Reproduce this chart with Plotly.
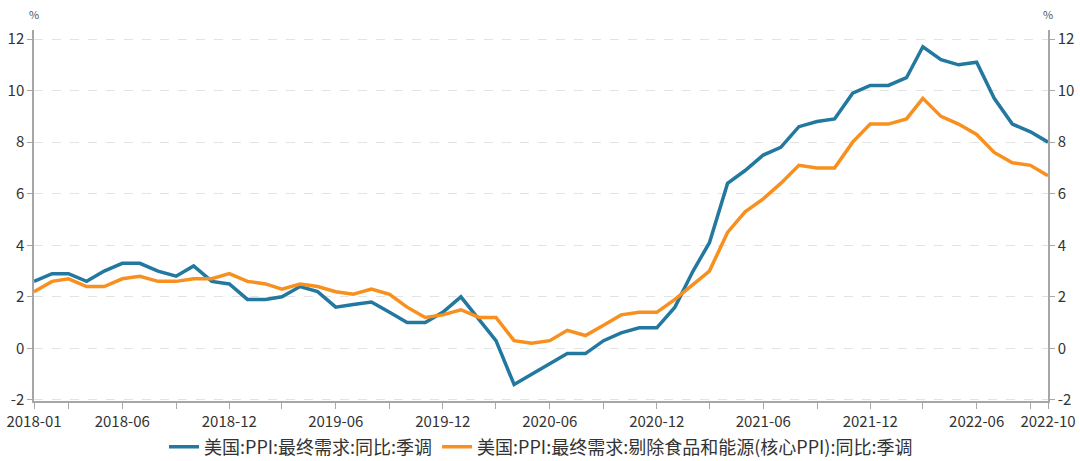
import plotly.graph_objects as go

# monthly data, 2018-01 .. 2022-10
months = [f"{y}-{m:02d}-01" for y in range(2018, 2023) for m in range(1, 13)][:58]

ppi_final = [
    2.6, 2.9, 2.9, 2.6, 3.0, 3.3, 3.3, 3.0, 2.8, 3.2, 2.6, 2.5,
    1.9, 1.9, 2.0, 2.4, 2.2, 1.6, 1.7, 1.8, 1.4, 1.0, 1.0, 1.4,
    2.0, 1.1, 0.3, -1.4, -1.0, -0.6, -0.2, -0.2, 0.3, 0.6, 0.8, 0.8,
    1.6, 3.0, 4.1, 6.4, 6.9, 7.5, 7.8, 8.6, 8.8, 8.9, 9.9, 10.2,
    10.2, 10.5, 11.7, 11.2, 11.0, 11.1, 9.7, 8.7, 8.4, 8.0,
]
ppi_core = [
    2.2, 2.6, 2.7, 2.4, 2.4, 2.7, 2.8, 2.6, 2.6, 2.7, 2.7, 2.9,
    2.6, 2.5, 2.3, 2.5, 2.4, 2.2, 2.1, 2.3, 2.1, 1.6, 1.2, 1.3,
    1.5, 1.2, 1.2, 0.3, 0.2, 0.3, 0.7, 0.5, 0.9, 1.3, 1.4, 1.4,
    1.9, 2.5, 3.0, 4.5, 5.3, 5.8, 6.4, 7.1, 7.0, 7.0, 8.0, 8.7,
    8.7, 8.9, 9.7, 9.0, 8.7, 8.3, 7.6, 7.2, 7.1, 6.7,
]

name_final = "美国:PPI:最终需求:同比:季调"
name_core = "美国:PPI:最终需求:剔除食品和能源(核心PPI):同比:季调"

# tick marks every quarter, labels at Jun/Dec plus both ends
tick_vals = ["2018-01-01"] + [
    f"{y}-{m:02d}-01" for y in range(2018, 2023) for m in (3, 6, 9, 12)
    if f"{y}-{m:02d}" <= "2022-09"
] + ["2022-10-01"]
tick_text = [
    v[:7] if (v[5:7] in ("06", "12") or v in ("2018-01-01", "2022-10-01")) else ""
    for v in tick_vals
]

y_ticks = [-2, 0, 2, 4, 6, 8, 10, 12]
y_text = [str(v) for v in y_ticks]  # plain hyphen for "-2"
y_range = [-2.04, 12.35]

FONT = "Noto Sans CJK SC, Noto Sans, sans-serif"
AXIS_GREY = "#a6a6a6"
TEXT = "#333333"


def y_axis(**extra):
    d = dict(
        range=y_range, tickmode="array", tickvals=y_ticks, ticktext=y_text,
        ticks="outside", ticklen=5, tickcolor=AXIS_GREY,
        showline=True, linecolor=AXIS_GREY, linewidth=1.5,
        zeroline=False, automargin=False,
        tickfont=dict(size=15, color=TEXT),
    )
    d.update(extra)
    return d


fig = go.Figure()
fig.add_trace(go.Scatter(
    x=months, y=ppi_final, mode="lines", name=name_final,
    line=dict(color="#22789E", width=3.5),
))
fig.add_trace(go.Scatter(
    x=months, y=ppi_core, mode="lines", name=name_core, yaxis="y2",
    line=dict(color="#F7901E", width=3.5),
))

fig.update_layout(
    width=1080,
    height=461,
    paper_bgcolor="white",
    plot_bgcolor="white",
    font=dict(family=FONT, size=14, color=TEXT),
    margin=dict(l=34, r=32, t=30, b=60, autoexpand=False),
    showlegend=True,
    legend=dict(
        orientation="h", x=0.5, xanchor="center", y=-0.124, yanchor="middle",
        font=dict(size=18, color=TEXT),
    ),
    xaxis=dict(
        type="date",
        range=["2018-01-01", "2022-10-01"],
        tickmode="array", tickvals=tick_vals, ticktext=tick_text,
        ticks="outside", ticklen=6, tickcolor=AXIS_GREY,
        showline=True, linecolor=AXIS_GREY, linewidth=1.5,
        showgrid=False, zeroline=False, automargin=False,
        tickfont=dict(size=15, color=TEXT),
    ),
    yaxis=y_axis(showgrid=True, gridcolor="#e3e3e3", griddash="dash", gridwidth=1),
    yaxis2=y_axis(overlaying="y", side="right", showgrid=False),
    annotations=[
        dict(text="%", xref="paper", yref="paper", x=0, y=1, xanchor="center",
             yanchor="bottom", yshift=6, showarrow=False,
             font=dict(size=11, color="#555555")),
        dict(text="%", xref="paper", yref="paper", x=1, y=1, xanchor="center",
             yanchor="bottom", yshift=6, showarrow=False,
             font=dict(size=11, color="#555555")),
    ],
)

# drop the default 8px body margin so the figure sits at the page origin
fig.write_html(
    "out.html",
    config={"displayModeBar": False},
    post_script="document.body.style.margin='0';",
)
